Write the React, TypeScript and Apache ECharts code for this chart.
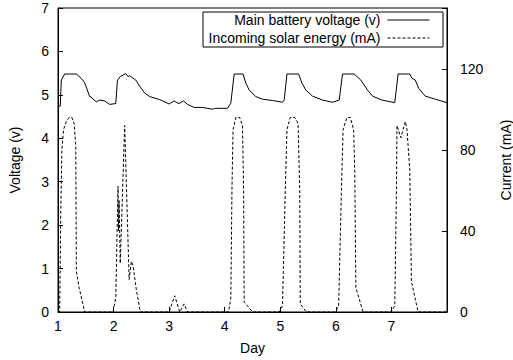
import React, { useEffect, useRef } from "react";
import * as echarts from "echarts";

const dayTicks = [1, 2, 3, 4, 5, 6, 7];

const voltage: [number, number][] = [
  [1.02, 4.74], [1.04, 4.74], [1.06, 5.34], [1.12, 5.48], [1.33, 5.48], [1.42, 5.38],
  [1.48, 5.28], [1.57, 4.96], [1.61, 4.94], [1.63, 4.9], [1.69, 4.84], [1.75, 4.88],
  [1.84, 4.86], [1.93, 4.78], [2.04, 4.8], [2.07, 5.34], [2.12, 5.42], [2.22, 5.49],
  [2.26, 5.42], [2.29, 5.44], [2.33, 5.4], [2.4, 5.34], [2.47, 5.2], [2.56, 5.04],
  [2.65, 4.96], [2.83, 4.89], [3.0, 4.79], [3.09, 4.86], [3.14, 4.82], [3.18, 4.8],
  [3.26, 4.86], [3.33, 4.78], [3.45, 4.71], [3.6, 4.71], [3.78, 4.67], [3.84, 4.69],
  [4.05, 4.69], [4.11, 4.81], [4.17, 5.48], [4.33, 5.48], [4.38, 5.27], [4.44, 5.11],
  [4.56, 4.96], [4.68, 4.9], [4.86, 4.87], [5.04, 4.83], [5.07, 4.88], [5.12, 5.48],
  [5.33, 5.48], [5.39, 5.27], [5.46, 5.11], [5.58, 4.97], [5.76, 4.88], [5.94, 4.83],
  [6.06, 4.88], [6.12, 5.48], [6.33, 5.48], [6.45, 5.34], [6.57, 5.11], [6.66, 4.97],
  [6.83, 4.88], [7.06, 4.82], [7.12, 5.48], [7.33, 5.48], [7.37, 5.38], [7.43, 5.34],
  [7.49, 5.15], [7.61, 4.97], [7.79, 4.9], [8.0, 4.82],
];

const current: [number, number][] = [
  [1.0, 0], [1.03, 0], [1.05, 50], [1.07, 80], [1.1, 90], [1.15, 94], [1.2, 96],
  [1.25, 96], [1.29, 93], [1.32, 82], [1.33, 20], [1.38, 12], [1.48, 0],
  [1.99, 0], [2.04, 7], [2.08, 62], [2.09, 40], [2.1, 55], [2.12, 24], [2.2, 92],
  [2.28, 16], [2.32, 25], [2.35, 23], [2.41, 11], [2.48, 0],
  [3.0, 0], [3.1, 8], [3.19, 0], [3.27, 4], [3.33, 0],
  [4.07, 0], [4.11, 7], [4.13, 60], [4.15, 90], [4.2, 96], [4.27, 96], [4.32, 92],
  [4.34, 60], [4.35, 5], [4.5, 0],
  [4.98, 0], [5.04, 3], [5.09, 60], [5.12, 90], [5.18, 96], [5.26, 96], [5.32, 93],
  [5.35, 60], [5.36, 4], [5.47, 0],
  [5.99, 0], [6.05, 3], [6.1, 60], [6.13, 90], [6.2, 96], [6.26, 96], [6.32, 90],
  [6.34, 70], [6.36, 12], [6.49, 0],
  [6.99, 0], [7.06, 3], [7.09, 60], [7.1, 92], [7.17, 86], [7.25, 94], [7.28, 90],
  [7.33, 70], [7.36, 15], [7.48, 0], [8.0, 0],
];

const currentTicks = [0, 40, 80, 120];

const FONT = "Liberation Sans, Arial, Helvetica, sans-serif";

export default function App() {
  const ref = useRef<HTMLDivElement>(null);
  useEffect(() => {
    if (!ref.current) return;
    const chart = echarts.init(ref.current, undefined, { renderer: "svg" });
    const textStyle = { color: "#000", fontFamily: FONT, fontSize: 14 };
    const legendCommon = {
      right: 83, padding: 0, align: "right",
      itemWidth: 42, itemHeight: 14,
      itemStyle: { opacity: 0 },
      lineStyle: { width: 1 },
      textStyle: { ...textStyle, padding: [0, 2, 0, 0] },
    };
    chart.setOption({
      animation: false,
      textStyle,
      grid: {
        left: 58, right: 66, top: 8, bottom: 48,
        containLabel: false, outerBoundsMode: "none",
        show: true, borderColor: "#000", borderWidth: 1,
      },
      legend: [
        { ...legendCommon, data: ["Main battery voltage (v)"], top: 13 },
        { ...legendCommon, data: ["Incoming solar energy (mA)"], top: 31 },
      ],
      graphic: [
        {
          type: "rect",
          shape: { x: 203, y: 12, width: 240, height: 35 },
          style: { fill: "none", stroke: "#000", lineWidth: 1 },
          silent: true,
        },
      ],
      xAxis: {
        type: "value", min: 1, max: 8, interval: 1,
        name: "Day", nameLocation: "middle", nameGap: 29,
        nameTextStyle: { ...textStyle },
        axisLine: { show: true, lineStyle: { color: "#000" } },
        axisTick: { show: true, inside: true, length: 5, lineStyle: { color: "#000" } },
        axisLabel: {
          ...textStyle, margin: 7,
          formatter: (v: number) => (dayTicks.includes(v) ? String(v) : ""),
        },
        splitLine: { show: false },
      },
      yAxis: [
        {
          type: "value", min: 0, max: 7, interval: 1, position: "left",
          name: "Voltage (v)", nameLocation: "middle", nameGap: 36,
          nameTextStyle: { ...textStyle },
          axisLine: { show: true, lineStyle: { color: "#000" } },
          axisTick: { show: true, inside: true, length: 5, lineStyle: { color: "#000" } },
          axisLabel: { ...textStyle, margin: 9 },
          splitLine: { show: false },
        },
        {
          type: "value", min: 0, max: 150, interval: 40, position: "right",
          name: "Current (mA)", nameLocation: "middle", nameGap: 52,
          nameTextStyle: { ...textStyle },
          axisLine: { show: true, lineStyle: { color: "#000" } },
          axisTick: { show: true, inside: true, length: 5, lineStyle: { color: "#000" } },
          axisLabel: {
            ...textStyle, margin: 13,
            formatter: (v: number) => (currentTicks.includes(v) ? String(v) : ""),
          },
          splitLine: { show: false },
        },
      ],
      series: [
        {
          name: "Main battery voltage (v)", type: "line", yAxisIndex: 0,
          data: voltage, symbol: "none", showSymbol: false,
          lineStyle: { color: "#000", width: 1 }, itemStyle: { color: "#000" },
        },
        {
          name: "Incoming solar energy (mA)", type: "line", yAxisIndex: 1,
          data: current, symbol: "none", showSymbol: false,
          lineStyle: { color: "#000", width: 1, type: [3, 2] }, itemStyle: { color: "#000" },
        },
      ],
    });
    return () => chart.dispose();
  }, []);
  return (
    <div
      ref={ref}
      style={{ position: "fixed", left: 0, top: 0, width: 513, height: 360, background: "#fff" }}
    />
  );
}
